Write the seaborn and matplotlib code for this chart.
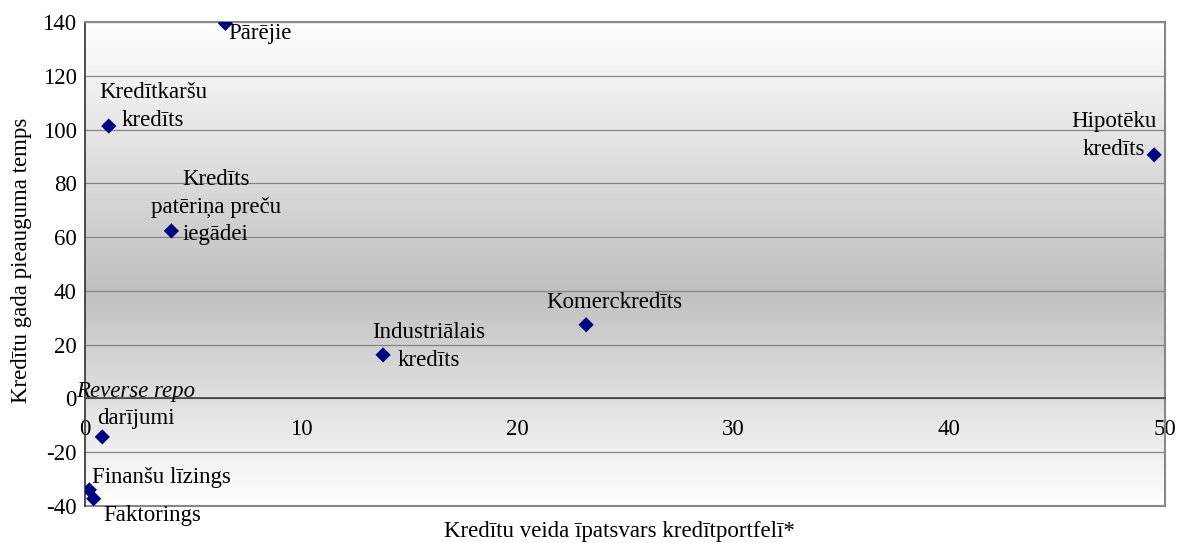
import numpy as np
import pandas as pd
import matplotlib
matplotlib.use("Agg")
import matplotlib.pyplot as plt
from matplotlib.colors import LinearSegmentedColormap
import seaborn as sns

# Dati: kredītu veids, īpatsvars portfelī (%), gada pieauguma temps (%)
veidi = ["Pārējie", "Kredītkaršu kredīts", "Kredīts patēriņa preču iegādei",
         "Industriālais kredīts", "Komerckredīts", "Hipotēku kredīts",
         "Reverse repo darījumi", "Finanšu līzings", "Faktorings"]
ipatsvars = [6.5, 1.1, 4.0, 13.8, 23.2, 49.5, 0.8, 0.2, 0.4]
pieaugums = [139.5, 101.3, 62.3, 16.2, 27.4, 90.6, -14.3, -34.0, -37.3]

# etiķešu teksti (ar rindu pārnesumiem kā oriģinālā)
etiketes = ["Pārējie", "Kredītkaršu\nkredīts", "Kredīts\npatēriņa preču\niegādei",
            "Industriālais\nkredīts", "Komerckredīts", "Hipotēku\nkredīts",
            None, "Finanšu līzings", "Faktorings"]

x_ticks = [0, 10, 20, 30, 40, 50]
y_ticks = [-40, -20, 0, 20, 40, 60, 80, 100, 120, 140]

df = pd.DataFrame({"veids": veidi, "x": ipatsvars, "y": pieaugums})

sns.set_style("white")
plt.rcParams['font.family'] = ['Liberation Serif', 'DejaVu Serif']
plt.rcParams['text.color'] = 'black'
FS = 16.5

fig = plt.figure(figsize=(11.77, 5.43), dpi=100)
ax = fig.add_axes([85 / 1177, 1 - 506 / 543, 1080 / 1177, 484 / 543])

ax.set_xlim(0, 50)
ax.set_ylim(-40, 140)

# fona gradients: balts augšā un apakšā, tumšākais ap 40
cmap = LinearSegmentedColormap.from_list(
    "fons", [(0.0, "#ffffff"), (0.444, "#c0c0c0"), (1.0, "#ffffff")])
grad = np.linspace(1, 0, 256).reshape(-1, 1)
ax.imshow(grad, cmap=cmap, vmin=0, vmax=1, extent=(0, 1, 0, 1),
          transform=ax.transAxes, aspect='auto', zorder=0)

# horizontālās režģa līnijas
for yt in y_ticks[1:]:
    ax.axhline(yt, color="#858585", lw=0.9, zorder=1)
ax.axhline(-40, color="#888888", lw=1.5, zorder=1, clip_on=False)

sns.scatterplot(data=df, x="x", y="y", marker="D", color="#000080",
                edgecolor="none", s=60, ax=ax, zorder=5, legend=False)

# asis
ax.spines['bottom'].set_position(('data', 0))
ax.spines['bottom'].set_color("#404040")
ax.spines['bottom'].set_linewidth(1.2)
ax.spines['left'].set_color("#303030")
ax.spines['left'].set_linewidth(1.2)
for s in ['top', 'right']:
    ax.spines[s].set_color("#888888")
    ax.spines[s].set_linewidth(1.5)
ax.spines['bottom'].set_zorder(3)

ax.set_xticks(x_ticks)
ax.set_yticks(y_ticks)
ax.tick_params(axis='x', direction='out', length=4, width=0.8, pad=11,
               colors="#404040", labelcolor="black", labelsize=FS)
ax.tick_params(axis='y', direction='out', length=4, width=0.8, pad=2,
               colors="#404040", labelcolor="black", labelsize=FS)
ax.set_xticklabels([str(v) for v in x_ticks])
ax.set_yticklabels([str(v) for v in y_ticks])

ax.set_xlabel("Kredītu veida īpatsvars kredītportfelī*", fontsize=FS, color='black')
ax.xaxis.set_label_coords(0.495, -0.03)
ax.set_ylabel("Kredītu gada pieauguma temps", fontsize=FS, color='black')
ax.yaxis.set_label_coords(-0.049, 0.508)

# etiķešu nobīdes punktos (dx, dy, ha)
nobides = [(2, -7, 'left'), (32, 14, 'center'), (32, 17, 'center'),
           (33, 6, 'center'), (20, 16, 'center'), (-29, 14, 'center'),
           None, (2, 9, 'left'), (7, -12, 'left')]

for i, txt in enumerate(etiketes):
    if txt is None:
        continue
    dx, dy, ha = nobides[i]
    ax.annotate(txt, (ipatsvars[i], pieaugums[i]), xytext=(dx, dy),
                textcoords='offset points', ha=ha, va='center',
                fontsize=FS, linespacing=1.4, zorder=6, annotation_clip=False)

# Reverse repo: pirmā rinda slīprakstā
i = veidi.index("Reverse repo darījumi")
ax.annotate("Reverse repo", (ipatsvars[i], pieaugums[i]), xytext=(24, 33),
            textcoords='offset points', ha='center', va='center',
            fontsize=FS, style='italic', zorder=6, annotation_clip=False)
ax.annotate("darījumi", (ipatsvars[i], pieaugums[i]), xytext=(24, 13),
            textcoords='offset points', ha='center', va='center',
            fontsize=FS, zorder=6, annotation_clip=False)

fig.savefig("out.png", dpi=100)
